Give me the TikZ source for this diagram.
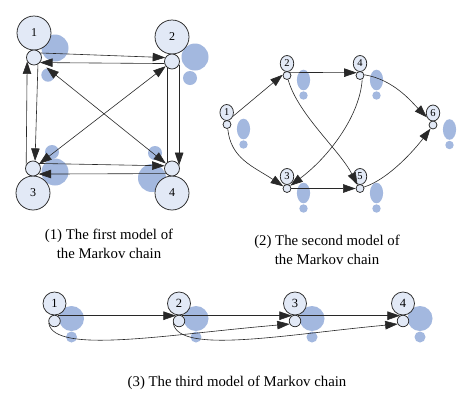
\documentclass[tikz,border=0pt]{standalone}
\usepackage{fontspec}
\setmainfont{Liberation Serif}
\usetikzlibrary{arrows.meta,shapes.geometric}
\definecolor{nodefill}{RGB}{226,233,246}
\definecolor{blob}{RGB}{163,184,223}
\definecolor{ink}{RGB}{40,40,40}
\begin{document}
\begin{tikzpicture}[x=1pt,y=-1pt,
  nd/.style={draw=ink,fill=nodefill,line width=0.75pt,inner sep=0pt},
  bigA/.style={nd,circle,minimum size=34pt,font=\fontsize{12}{12}\selectfont},
  smallA/.style={nd,circle,minimum size=15pt},
  bigB/.style={nd,ellipse,minimum width=13.5pt,minimum height=16pt,font=\fontsize{10.5}{10}\selectfont},
  smallB/.style={nd,circle,minimum size=8pt},
  bigC/.style={nd,circle,minimum size=23pt,font=\fontsize{12.5}{12}\selectfont},
  smallC/.style={nd,circle,minimum size=11.5pt},
  plainline/.style={draw=ink,line width=0.6pt},
  link/.style={plainline,-{Triangle[length=12.5pt,width=8.5pt]}},
  link2/.style={plainline,{Triangle[length=12.5pt,width=8.5pt]}-{Triangle[length=12.5pt,width=8.5pt]}},
  captext/.style={align=center,font=\fontsize{14.8}{19}\selectfont}
]
\fill[white] (0,0) rectangle (474,408);
\useasboundingbox (0,0) rectangle (474,408);

% ---------- panel 1 ----------
\fill[blob] (55,48) circle[radius=13.5];
\fill[blob] (48,75) circle[radius=6.7];
\fill[blob] (195,57) circle[radius=13.5];
\fill[blob] (190,78) circle[radius=7];
\fill[blob] (55,172) circle[radius=13.5];
\fill[blob] (52,152) circle[radius=7];
\fill[blob] (152,178) circle[radius=14];
\fill[blob] (155,153) circle[radius=7];

\node[bigA] (a1) at (34,33) {1};
\node[smallA] (b1) at (34,57.5) {};
\node[bigA] (a2) at (172,37) {2};
\node[smallA] (b2) at (172,61.5) {};
\node[bigA] (a3) at (33,193) {3};
\node[smallA] (b3) at (33,168.5) {};
\node[bigA] (a4) at (172,193) {4};
\node[smallA] (b4) at (172,168.5) {};

\draw[link] (b1.35) -- (b2.150);
\draw[link] (b2.195) -- (b1.-40);
\draw[link] (b3.150) -- (b1.210);
\draw[link] (b1.-60) -- (b3.75);
\draw[link] (b2.-25) -- (b4.25);
\draw[plainline] (b4.125) -- (b2.235);
\draw[link] (b3.40) -- (b4.160);
\draw[link] (b4.220) -- (b3.-45);
\draw[link2,shorten <=8pt] (b1.-39) -- (b4.141);
\draw[link2] (b2.217) -- (b3.37);

% ---------- panel 2 ----------
\foreach \x/\y in {227/124.5,287/75.5,360/75.5,433/125,287/188.5,360/188.5}{
  \fill[blob] (\x+16.5,\y+4.5) ellipse[x radius=6.6,y radius=10.3];
  \fill[blob] (\x+16.5,\y+20) circle[radius=4.2];
}
\node[bigB] (c1) at (226.7,112.5) {1};
\node[smallB] (d1) at (227,124.5) {};
\node[bigB] (c2) at (287,63.5) {2};
\node[smallB] (d2) at (287,75.5) {};
\node[bigB] (c4) at (360,63.5) {4};
\node[smallB] (d4) at (360,75.5) {};
\node[bigB] (c6) at (433,113) {6};
\node[smallB] (d6) at (433,125) {};
\node[bigB] (c3) at (287,176.5) {3};
\node[smallB] (d3) at (287,188.5) {};
\node[bigB] (c5) at (360,176.5) {5};
\node[smallB] (d5) at (360,188.5) {};

\draw[link] (c1.-30) -- (d2.170);
\draw[link] (d1.-80) .. controls +(3,30) and +(-30,-20) .. (d3.150);
\draw[link] (d2.45) -- (d4.140);
\draw[link] (d2.-75) .. controls +(10,35) and +(-18,-35) .. (d5.125);
\draw[link] (d4.-60) .. controls +(-2,35) and +(40,-30) .. (d3.40);
\draw[link] (d4.10) .. controls +(30,5) and +(-15,-15) .. (c6.215);
\draw[link] (d3.0) -- (d5.180);
\draw[link] (d5.20) .. controls +(25,-8) and +(-15,20) .. (d6.-125);

% ---------- panel 3 ----------
\foreach \x in {54.5,179,295,403}{
  \fill[blob] (\x+17,318.5) circle[radius=12.5];
  \fill[blob] (\x+17,337) circle[radius=5.5];
}
\node[bigC] (e1) at (54.5,303.5) {1};
\node[smallC] (f1) at (54.5,321) {};
\node[bigC] (e2) at (179,303.5) {2};
\node[smallC] (f2) at (179,321) {};
\node[bigC] (e3) at (295,303.5) {3};
\node[smallC] (f3) at (295,321) {};
\node[bigC] (e4) at (403,303.5) {4};
\node[smallC] (f4) at (403,321) {};

\draw[link] (f1.60) -- (f2.120);
\draw[link] (f2.60) -- (f3.120);
\draw[link] (f3.60) -- (f4.120);
\draw[link] (f1.200) .. controls +(5,32) and +(-120,10) .. (f3.-150);
\draw[link] (f2.200) .. controls +(5,32) and +(-110,10) .. (f4.-150);

% ---------- captions ----------
\node[captext] (t1) at (109,243.5) {(1) The first model of\\the Markov chain};
\node[captext] (t2) at (327,249.5) {(2) The second model of\\the Markov chain};
\node[captext] (t3) at (237,383) {(3) The third model of Markov chain};
\end{tikzpicture}
\end{document}
